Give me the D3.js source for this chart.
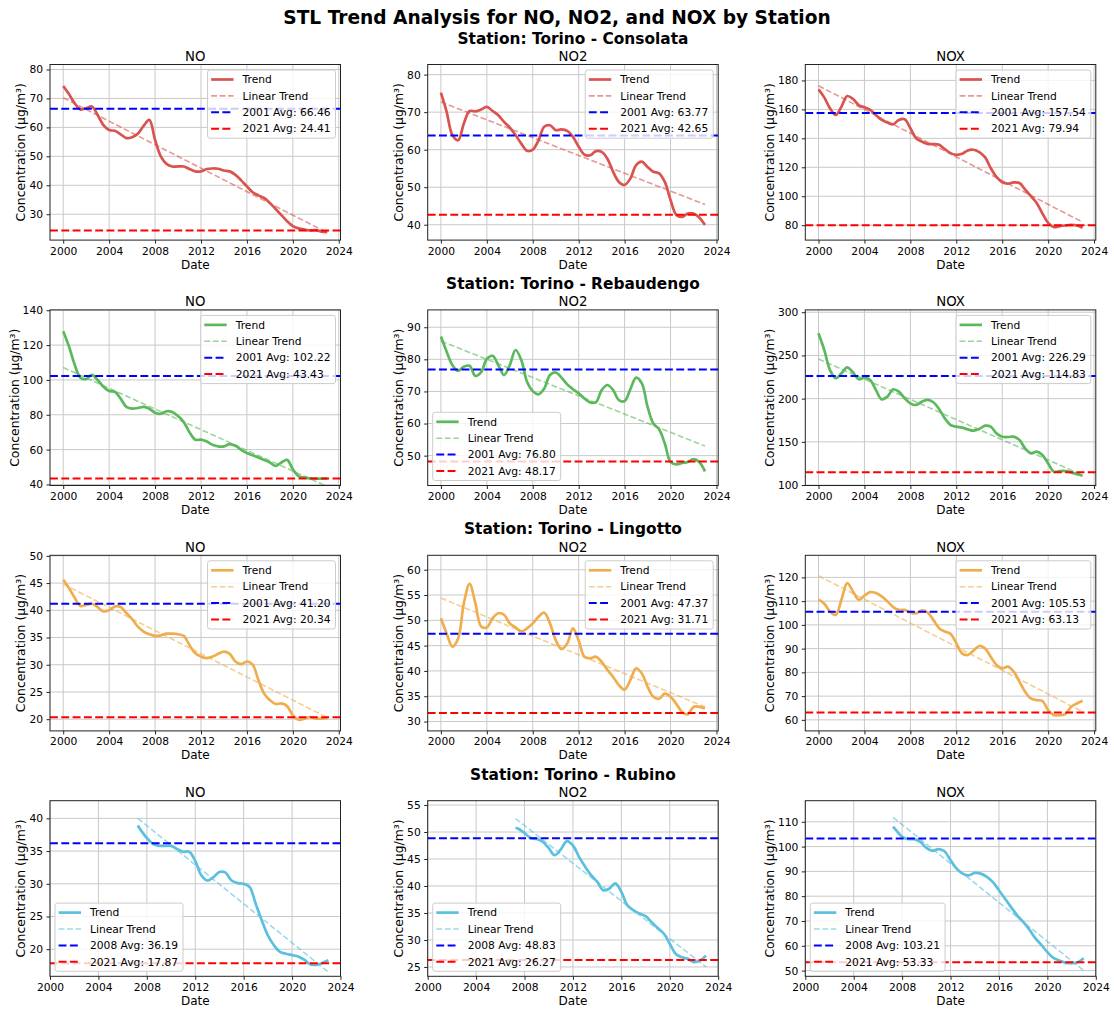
<!DOCTYPE html>
<html>
<head>
<meta charset="utf-8">
<script src="https://cdn.jsdelivr.net/npm/d3@7"></script>
<style>
  body { margin: 0; background: #fff; }
  text { font-family: "DejaVu Sans", sans-serif; }
</style>
</head>
<body>
<svg id="chart" width="1114" height="1009"></svg>
<script>
// stations and pollutants (rows / columns)
const stations = ["Torino - Consolata", "Torino - Rebaudengo", "Torino - Lingotto", "Torino - Rubino"];
const pollutants = ["NO", "NO2", "NOX"];
const stationColors = ["#d9534f", "#5cb85c", "#f0ad4e", "#5bc0de"];

// x positions of the trend samples (half years)
const years = d3.range(2000, 2023.001, 0.5);
const rubinoYears = [2007.25].concat(d3.range(2007.5, 2023.001, 0.5));
const xTicks = [2000, 2004, 2008, 2012, 2016, 2020, 2024];

// STL trend
const consolataNO = [74.3, 71.5, 68.3, 66.2, 66.6, 67.2, 64.3, 60.8, 59.1, 58.8,
  57.6, 56.3, 56.6, 57.8, 60.5, 62.6, 55.7, 50, 47.4, 46.5,
  46.5, 46.5, 45.6, 44.8, 44.8, 45.6, 45.8, 45.7, 45.1, 44.8,
  43.6, 41.7, 39.6, 37.6, 36.5, 35.6, 33.9, 31.8, 29.7, 27.6,
  25.9, 25.1, 24.7, 24.4, 24.5, 24.0, 23.8];
const consolataNO2 = [75.2, 70.1, 63.9, 62.5, 67, 70.3, 70.2, 70.7, 71.4, 70.3,
  69.2, 67.4, 65.9, 63.9, 61.6, 59.7, 60, 62.5, 66.1, 66.5,
  65.2, 65.4, 65.0, 63.4, 60.8, 58.7, 58.5, 59.6, 59.4, 57.6,
  54.1, 51.4, 50.6, 52.3, 55.9, 56.8, 55.4, 54.1, 53.7, 51.4,
  46.6, 42.6, 42.1, 43.0, 43.0, 41.9, 39.9];
const consolataNOX = [173.8, 168.3, 160.7, 156.1, 161.9, 169.2, 167.2, 163, 161.4, 159.6,
  156.1, 152.7, 150.9, 149.7, 152.7, 153.2, 147, 140.1, 137.8, 136.2,
  136, 135.5, 132.5, 129.8, 128.6, 129.3, 131.6, 132.1, 130.5, 127,
  119.4, 113.3, 109.6, 108.7, 109.6, 109.1, 104.6, 100, 95.4, 88.1,
  81.6, 78.7, 79.3, 79.8, 80.2, 79.8, 78.2];

const rebaudengoNO = [128, 119.3, 108.7, 101.3, 100.5, 102.9, 100, 96.1, 93.6, 93.2,
  89.3, 84.5, 83.5, 83.9, 84.5, 83.5, 81.2, 80.6, 82, 81.6,
  79.3, 75.8, 70, 65.7, 65.7, 64.6, 62.8, 61.9, 61.9, 63.2,
  62.2, 59.9, 58, 56.8, 55.5, 54.1, 52.6, 50.6, 52.6, 54.1,
  48.7, 44.8, 43.9, 43.5, 43.3, 43.3, 43.3];
const rebaudengoNO2 = [87.1, 82.4, 78.2, 76.4, 77.7, 78, 74.8, 76, 80.1, 81.1,
  78.2, 75.1, 78.2, 82.9, 79.8, 73, 70.1, 69.1, 70.9, 75.1,
  75.9, 74.3, 72.2, 70.7, 69.4, 67.8, 66.6, 66.6, 70.4, 72,
  70.4, 67.3, 67, 70.7, 74.3, 72.5, 65.2, 60, 58.2, 53.8,
  48, 47.3, 47.7, 48, 48.9, 48, 45.1];
const rebaudengoNOX = [275.7, 256.4, 233.2, 223.6, 229.3, 236.3, 230.5, 222.4, 224.3, 221.6,
  210, 199.2, 202.3, 210.8, 208.1, 200.4, 194.6, 192.7, 196.5, 198.5,
  195.8, 188, 177.2, 169.5, 167.6, 166.4, 164.5, 162.9, 164.9, 168.7,
  167.6, 159.8, 156, 155.6, 156, 152.1, 142.5, 136.7, 138.6, 134.7,
  125.1, 115.4, 116.2, 116.2, 114.7, 112.7, 110.8];

const lingottoNO = [45.6, 44.1, 42.3, 40.8, 41, 41.2, 40.6, 39.8, 40, 40.7,
  40.6, 39.5, 38.4, 37, 36.1, 35.6, 35.3, 35.4, 35.7, 35.7,
  35.6, 35.3, 33.6, 32.1, 31.5, 31.2, 31.5, 32, 32.4, 32,
  30.6, 30.1, 30.6, 30, 27.2, 24.7, 23.5, 22.8, 22.9, 22.4,
  20.7, 19.9, 20.1, 20.4, 20.1, 20.1, 20.2];
const lingottoNO2 = [50.4, 47.4, 44.8, 46.4, 53.4, 57.2, 53.4, 48.8, 48.6, 50.4,
  51.4, 51.1, 49.4, 48.6, 47.8, 48.4, 49.4, 50.7, 51.5, 49.4,
  46.1, 44.3, 45.4, 48.4, 46.0, 42.8, 42.5, 42.8, 41.8, 40.2,
  38.8, 37.2, 36.3, 38.2, 40.5, 39.5, 36.9, 34.9, 34.5, 35.5,
  34.9, 33.5, 31.9, 31.4, 32.9, 32.9, 32.6];
const lingottoNOX = [110.6, 108.9, 105.6, 104.2, 110.6, 117.6, 114.1, 110.6, 112.3, 113.8,
  113.4, 112, 109.9, 107.5, 106.3, 106.3, 105.2, 104.9, 106.1, 105.2,
  102.1, 98.6, 97.2, 96.2, 92.3, 88, 87.3, 89.2, 91.1, 90.1,
  86.6, 83.1, 81.7, 82.4, 80.3, 76.1, 71.8, 69, 68.3, 68,
  64.1, 62, 62, 62.4, 65.5, 66.9, 68];

const rubinoNO = [38.9, 38.2, 37, 36.1, 35.8, 35.8, 35.8, 35.3, 34.9, 34.9,
  33.5, 31.3, 30.5, 31, 31.8, 31.7, 30.5, 30.1, 30, 29.5,
  26.9, 24.4, 22.1, 20.6, 19.6, 19.3, 19.1, 18.9, 18.4, 17.7,
  17.6, 17.9, 18.3];
const rubinoNO2 = [50.8, 50.6, 49.8, 48.9, 48.7, 48.2, 47, 45.7, 46.8, 48.3,
  47.5, 45.4, 43.6, 42, 40.8, 39.2, 39.5, 40.5, 38.9, 36.4,
  35.5, 34.9, 34.4, 33.3, 32.2, 31.2, 29.3, 27.4, 26.8, 26.5,
  25.9, 26.2, 27.1];
const rubinoNOX = [108, 106.6, 103.9, 103, 103, 101.9, 99.5, 98.3, 99, 98.1,
  94.5, 91.1, 89.1, 88.4, 89.4, 89.1, 87.8, 85.7, 82.4, 79,
  75.6, 72.3, 69.6, 66.6, 63.1, 60.4, 57.4, 55.1, 54.1, 53.1,
  53, 53.4, 55];

const trendValues = [
  [consolataNO, consolataNO2, consolataNOX],
  [rebaudengoNO, rebaudengoNO2, rebaudengoNOX],
  [lingottoNO, lingottoNO2, lingottoNOX],
  [rubinoNO, rubinoNO2, rubinoNOX]
];

// linear trend, value at first and last sample
const linearStart = [[70.25, 72.7, 176.3], [107.1, 85.7, 245.9], [44.8, 54.4, 120.7], [40, 52.5, 111.8]];
const linearEnd = [[23.6, 45.4, 82.1], [38.8, 53.0, 111.5], [20.3, 32.9, 63.4], [16.5, 25.0, 50]];

// yearly averages
const firstYear = [2001, 2001, 2001, 2008];
const lastYear = 2021;
const firstAvg = [[66.46, 63.77, 157.54], [102.22, 76.80, 226.29], [41.20, 47.37, 105.53], [36.19, 48.83, 103.21]];
const lastAvg = [[24.41, 42.65, 79.94], [43.43, 48.17, 114.83], [20.34, 31.71, 63.13], [17.87, 26.27, 53.33]];

// y axis limits of each panel
const yLimits = [
  [[21.06, 81.72], [35.9, 82.7], [69.7, 191.0]],
  [[39.4, 140.2], [40.7, 95.4], [99.5, 302.7]],
  [[17.85, 50.1], [28.15, 62.85], [55.35, 129.3]],
  [[15.86, 42.7], [23.27, 55.8], [47.7, 118.5]]
];
// legend corner: upper right or lower left
const legendPos = [["ur", "ur", "ur"], ["ur", "ll", "ur"], ["ur", "ur", "ur"], ["ll", "ll", "ll"]];

(function () {
  var svg = d3.select("#chart");
  // layout
  var axLeft = [50, 427.7, 805.3], axW = 290.5;
  var axTop = [64.5, 309.9, 555.3, 800.7], axH = 175.6;
  var tickFont = "10.7px", labelFont = "12px";

  svg.append("text")
    .attr("x", 557).attr("y", 23.5)
    .attr("text-anchor", "middle")
    .attr("font-size", "18.6px").attr("font-weight", "bold")
    .text("STL Trend Analysis for NO, NO2, and NOX by Station");

  var Panel = {
    draw: function (r, c) {
      var color = stationColors[r];
      var xs = r === 3 ? rubinoYears : years;
      var vals = trendValues[r][c];
      var g = svg.append("g").attr("transform", "translate(" + axLeft[c] + "," + axTop[r] + ")");
      var x = d3.scaleLinear()
        .domain(r === 3 ? [2000, 2024] : [1998.85, 2024.15])
        .range([0, axW]);
      var y = d3.scaleLinear().domain(yLimits[r][c]).range([axH, 0]);
      var yTicks = y.ticks(6);

      // grid
      g.append("g").selectAll("line").data(xTicks).enter().append("line")
        .attr("x1", d => x(d)).attr("x2", d => x(d))
        .attr("y1", 0).attr("y2", axH)
        .attr("stroke", "#c9c9c9").attr("stroke-width", 1);
      g.append("g").selectAll("line").data(yTicks).enter().append("line")
        .attr("y1", d => y(d)).attr("y2", d => y(d))
        .attr("x1", 0).attr("x2", axW)
        .attr("stroke", "#c9c9c9").attr("stroke-width", 1);

      // clip
      var clipId = "clip-" + r + "-" + c;
      g.append("clipPath").attr("id", clipId)
        .append("rect").attr("width", axW).attr("height", axH);
      var plot = g.append("g").attr("clip-path", "url(#" + clipId + ")");

      var line = d3.line()
        .x(d => x(d[0])).y(d => y(d[1]))
        .curve(d3.curveCatmullRom);

      plot.append("path")
        .datum(xs.map((yr, i) => [yr, vals[i]]))
        .attr("d", line)
        .attr("fill", "none").attr("stroke", color)
        .attr("stroke-width", 2.7).attr("stroke-linejoin", "round");

      plot.append("path")
        .datum([[xs[0], linearStart[r][c]], [xs[xs.length - 1], linearEnd[r][c]]])
        .attr("d", d3.line().x(d => x(d[0])).y(d => y(d[1])))
        .attr("fill", "none").attr("stroke", color).attr("stroke-opacity", 0.6)
        .attr("stroke-width", 1.6).attr("stroke-dasharray", "5.9,2.6");

      plot.append("line")
        .attr("x1", 0).attr("x2", axW)
        .attr("y1", y(firstAvg[r][c])).attr("y2", y(firstAvg[r][c]))
        .attr("stroke", "blue").attr("stroke-width", 2).attr("stroke-dasharray", "7.9,3.4");
      plot.append("line")
        .attr("x1", 0).attr("x2", axW)
        .attr("y1", y(lastAvg[r][c])).attr("y2", y(lastAvg[r][c]))
        .attr("stroke", "red").attr("stroke-width", 2).attr("stroke-dasharray", "7.9,3.4");

      // axes
      var xAxis = g.append("g").attr("transform", "translate(0," + axH + ")")
        .call(d3.axisBottom(x).tickValues(xTicks).tickFormat(d3.format("d"))
          .tickSize(3.5).tickPadding(3.5));
      var yAxis = g.append("g")
        .call(d3.axisLeft(y).tickValues(yTicks).tickFormat(d3.format("d"))
          .tickSize(3.5).tickPadding(3.5));
      [xAxis, yAxis].forEach(function (a) {
        a.attr("font-size", null).attr("font-family", null);
        a.select(".domain").remove();
        a.selectAll("text").attr("font-size", tickFont).attr("fill", "#000");
        a.selectAll("line").attr("stroke", "#222");
      });

      // spines
      g.append("rect").attr("width", axW).attr("height", axH)
        .attr("fill", "none").attr("stroke", "#222").attr("stroke-width", 1);

      // labels
      g.append("text").attr("x", axW / 2).attr("y", axH + 28.5)
        .attr("text-anchor", "middle").attr("font-size", labelFont).text("Date");
      var bb = yAxis.node().getBBox();
      g.append("text")
        .attr("transform", "translate(" + (bb.x - 4) + "," + (axH / 2) + ") rotate(-90)")
        .attr("text-anchor", "middle").attr("font-size", "12.4px")
        .text("Concentration (µg/m³)");
      g.append("text").attr("x", axW / 2).attr("y", -3.5)
        .attr("text-anchor", "middle").attr("font-size", "13.3px")
        .text(pollutants[c]);

      Panel.legend(g, r, c, color, axW, axH);
    },
    legend: function (g, r, c, color, w, h) {
      var items = [
        { label: "Trend", color: color, width: 2.7, dash: null, op: 1 },
        { label: "Linear Trend", color: color, width: 1.6, dash: "5.9,2.6", op: 0.6 },
        { label: firstYear[r] + " Avg: " + firstAvg[r][c].toFixed(2), color: "blue", width: 2, dash: "7.9,3.4", op: 1 },
        { label: lastYear + " Avg: " + lastAvg[r][c].toFixed(2), color: "red", width: 2, dash: "7.9,3.4", op: 1 }
      ];
      var rowH = 16.4, padTop = 9.5;
      var lg = g.append("g");
      var frame = lg.append("rect");
      var maxW = 0;
      items.forEach(function (d, i) {
        var t = lg.append("text").attr("x", 35).attr("y", padTop + i * rowH)
          .attr("dy", "0.35em").attr("font-size", tickFont).text(d.label);
        maxW = Math.max(maxW, t.node().getComputedTextLength());
      });
      items.forEach(function (d, i) {
        lg.append("line").attr("x1", 3.6).attr("x2", 26)
          .attr("y1", padTop + i * rowH).attr("y2", padTop + i * rowH)
          .attr("stroke", d.color).attr("stroke-width", d.width)
          .attr("stroke-opacity", d.op).attr("stroke-dasharray", d.dash);
      });
      var boxW = 40 + maxW, boxH = 2 * padTop + 3 * rowH;
      frame.attr("width", boxW).attr("height", boxH).attr("rx", 2.5)
        .attr("fill", "#fff").attr("fill-opacity", 0.8)
        .attr("stroke", "#cccccc").attr("stroke-width", 1);
      var pos = legendPos[r][c];
      var lx = pos === "ur" ? w - 5 - boxW : 5;
      var ly = pos === "ur" ? 5.5 : h - 5 - boxH;
      lg.attr("transform", "translate(" + lx + "," + ly + ")");
    }
  };

  stations.forEach(function (st, r) {
    svg.append("text")
      .attr("x", axLeft[1] + axW / 2).attr("y", axTop[r] - 21)
      .attr("text-anchor", "middle")
      .attr("font-size", "15.4px").attr("font-weight", "bold")
      .text("Station: " + st);
    pollutants.forEach(function (p, c) { Panel.draw(r, c); });
  });
})();
</script>
</body>
</html>
